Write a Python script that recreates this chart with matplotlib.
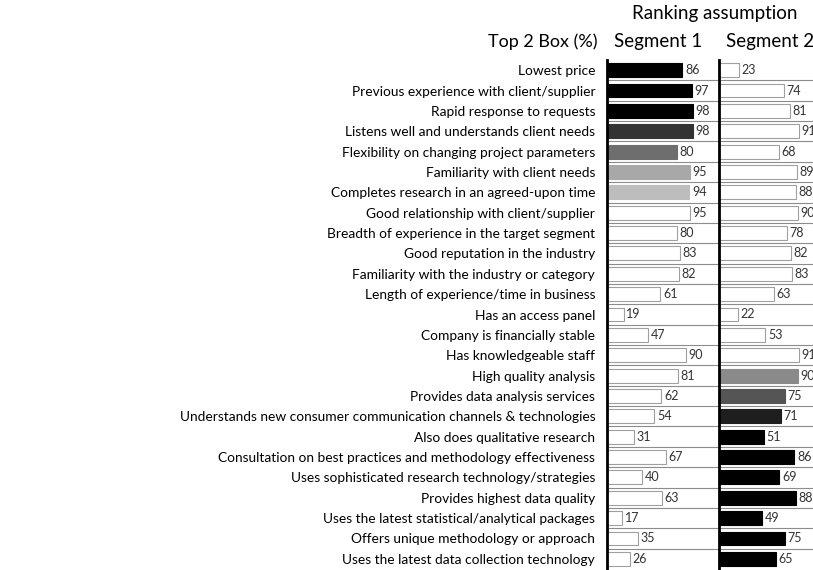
import numpy as np
import matplotlib.pyplot as plt

# Top 2 Box (%) by attribute, two segments
attributes = [
    "Lowest price",
    "Previous experience with client/supplier",
    "Rapid response to requests",
    "Listens well and understands client needs",
    "Flexibility on changing project parameters",
    "Familiarity with client needs",
    "Completes research in an agreed-upon time",
    "Good relationship with client/supplier",
    "Breadth of experience in the target segment",
    "Good reputation in the industry",
    "Familiarity with the industry or category",
    "Length of experience/time in business",
    "Has an access panel",
    "Company is financially stable",
    "Has knowledgeable staff",
    "High quality analysis",
    "Provides data analysis services",
    "Understands new consumer communication channels & technologies",
    "Also does qualitative research",
    "Consultation on best practices and methodology effectiveness",
    "Uses sophisticated research technology/strategies",
    "Provides highest data quality",
    "Uses the latest statistical/analytical packages",
    "Offers unique methodology or approach",
    "Uses the latest data collection technology",
]
segment1 = [86, 97, 98, 98, 80, 95, 94, 95, 80, 83, 82, 61, 19, 47, 90, 81, 62, 54, 31, 67, 40, 63, 17, 35, 26]
segment2 = [23, 74, 81, 91, 68, 89, 88, 90, 78, 82, 83, 63, 22, 53, 91, 90, 75, 71, 51, 86, 69, 88, 49, 75, 65]

# ranking shade per row (white = not in top ranks)
shade1 = ["#000000", "#000000", "#000000", "#333333", "#6e6e6e", "#a8a8a8", "#bdbdbd"] + ["white"] * 18
shade2 = ["white"] * 15 + ["#8a8a8a", "#555555", "#1e1e1e"] + ["#000000"] * 7

plt.rcParams['font.family'] = ['Lato', 'DejaVu Sans']

W, H = 813, 570
fig = plt.figure(figsize=(W / 100, H / 100), dpi=100)

n = len(attributes)
top_px, bot_px = 60, 569
panel_w = 112


def make_panel(x0, values, shades):
    ax = fig.add_axes([x0 / W, 1 - bot_px / H, panel_w / W, (bot_px - top_px) / H])
    y = np.arange(n)
    for yi, v, c in zip(y, values, shades):
        edge = "#a0a0a0" if c == "white" else c
        ax.barh(yi, v, height=0.68, color=c, edgecolor=edge, linewidth=0.8, zorder=2)
        ax.text(v + 3, yi, str(v), va="center", ha="left", fontsize=9, color="#333333")
    for k in range(n - 1):
        ax.axhline(k + 0.5, color="#8c8c8c", linewidth=0.8, zorder=1)
    ax.set_xlim(0, 128)
    ax.set_ylim(n - 0.5, -0.5)
    for s in ["top", "right", "bottom"]:
        ax.spines[s].set_visible(False)
    ax.spines["left"].set_linewidth(2)
    ax.set_xticks([])
    ax.tick_params(axis="y", length=0)
    return ax


ax1 = make_panel(607, segment1, shade1)
ax1.set_yticks(np.arange(n))
ax1.set_yticklabels(attributes, fontsize=9.9)
ax1.tick_params(axis="y", pad=8.5)

ax2 = make_panel(719, segment2, shade2)
ax2.set_yticks([])

fig.text(715 / W, 1 - 14 / H, "Ranking assumption", ha="center", va="center", fontsize=13.5)
fig.text(597 / W, 1 - 42 / H, "Top 2 Box (%)", ha="right", va="center", fontsize=13)
fig.text(658 / W, 1 - 42 / H, "Segment 1", ha="center", va="center", fontsize=13.5)
fig.text(770 / W, 1 - 42 / H, "Segment 2", ha="center", va="center", fontsize=13.5)

fig.savefig("out.png", dpi=100)
